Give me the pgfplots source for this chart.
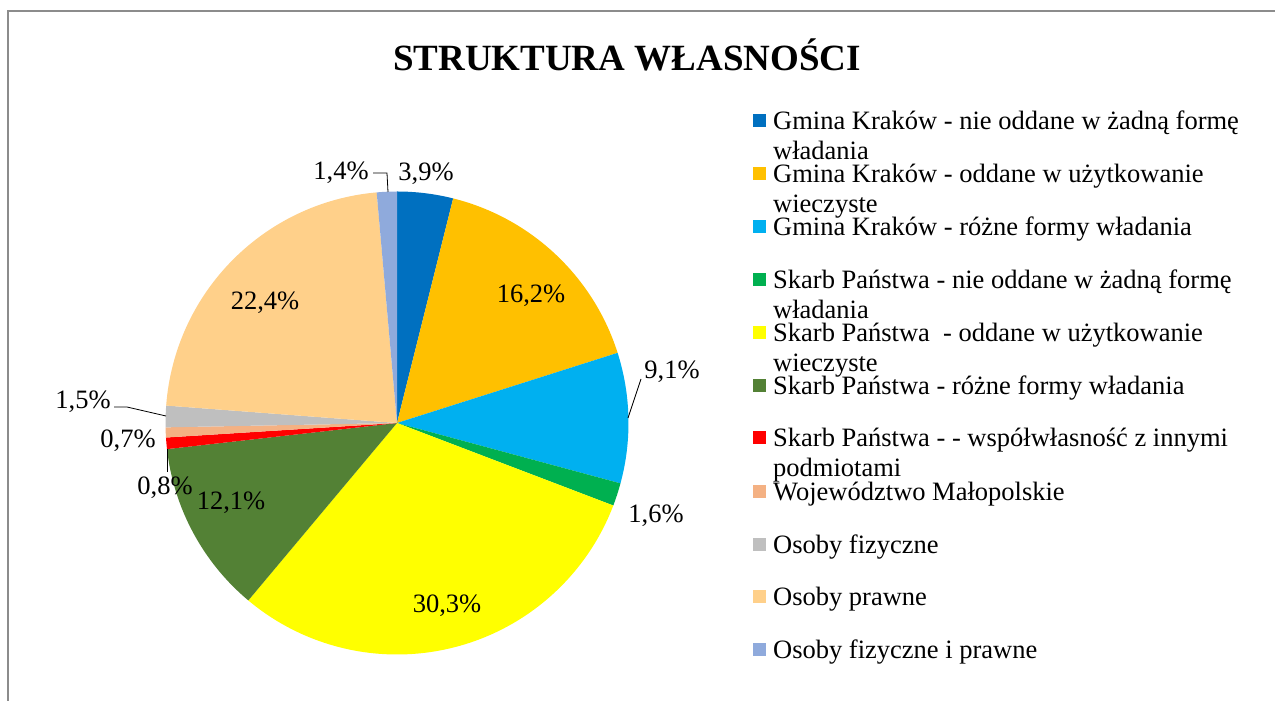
\documentclass[border=0pt]{standalone}
\usepackage{pgfplots}
\pgfplotsset{compat=1.18}
\usepackage{pgfplotstable}
\usepackage{fontspec}
\setmainfont{Liberation Serif}

\definecolor{s0}{HTML}{0070C0}
\definecolor{s1}{HTML}{FFC000}
\definecolor{s2}{HTML}{00B0F0}
\definecolor{s3}{HTML}{00B050}
\definecolor{s4}{HTML}{FFFF00}
\definecolor{s5}{HTML}{538135}
\definecolor{s6}{HTML}{FF0000}
\definecolor{s7}{HTML}{F4B183}
\definecolor{s8}{HTML}{BFBFBF}
\definecolor{s9}{HTML}{FFD08A}
\definecolor{s10}{HTML}{8FAADC}
\definecolor{framegray}{HTML}{8C8C8C}

\newcommand\labfont{\fontsize{26.5}{30}\selectfont}
\newcommand\legfont{\fontsize{26.5}{30}\selectfont}

% value, label centre (pixel coordinates of the reference)
\pgfplotstableread{
v lx ly
3.9 426 174
16.2 531 296
9.1 672 372
1.6 656 516
30.3 447 606
12.1 231 503
0.8 165 488
0.7 128 441
1.5 83 402
22.4 265 303
1.4 341 173
}\piedata

\begin{document}
\begin{tikzpicture}
\useasboundingbox (0,0) rectangle (1275pt,701pt);
\begin{axis}[at={(0pt,0pt)}, anchor=south west, x=1pt, y=1pt,
  xmin=0, xmax=1275, ymin=0, ymax=701, hide axis, clip=false]
\def\cum{0}
\pgfplotsforeachungrouped \i in {0,...,10}{%
  \pgfplotstablegetelem{\i}{v}\of\piedata \let\v\pgfplotsretval
  \pgfplotstablegetelem{\i}{lx}\of\piedata \let\lx\pgfplotsretval
  \pgfplotstablegetelem{\i}{ly}\of\piedata \let\ly\pgfplotsretval
  \pgfmathsetmacro\a{90-3.6*\cum}%
  \pgfmathsetmacro\b{90-3.6*(\cum+\v)}%
  \pgfmathsetmacro\cum{\cum+\v}%
  \pgfmathsetmacro\lyy{701-\ly}%
  \edef\temp{\noexpand\fill[s\i] (axis cs:397,278) -- ++(\a:231.5pt) arc[start angle=\a, end angle=\b, radius=231.5pt] -- cycle;
    \noexpand\node[font=\noexpand\labfont, inner sep=0pt] at (axis cs:\lx,\lyy) {\noexpand\pgfmathprintnumber[assume math mode=true,use comma,fixed,fixed zerofill,precision=1]{\v}\noexpand\%};}%
  \temp
}
% leader lines
\draw[black, line width=0.8pt] (axis cs:373,528) -- (axis cs:387,528) -- (axis cs:388,509);
\draw[black, line width=0.8pt] (axis cs:641,322) -- (axis cs:628,283);
\draw[black, line width=0.8pt] (axis cs:114,294) -- (axis cs:127,294) -- (axis cs:166,285);
\draw[black, line width=0.8pt] (axis cs:167,252) -- (axis cs:167,229);
% frame
\draw[framegray, line width=1.6pt] (axis cs:8,0) -- (axis cs:8,690) -- (axis cs:1275,690);
% title
\node[font=\bfseries\fontsize{37}{40}\selectfont, inner sep=0pt] at (axis cs:627,646) {STRUKTURA WŁASNOŚCI};
% legend
\fill[s0] (axis cs:753,573.5) rectangle (axis cs:766,586.5);
\node[anchor=base west, inner sep=0pt, font=\legfont] at (axis cs:773,571) {Gmina Kraków - nie oddane w żadną formę};
\node[anchor=base west, inner sep=0pt, font=\legfont] at (axis cs:773,541) {władania};
\fill[s1] (axis cs:753,520.5) rectangle (axis cs:766,533.5);
\node[anchor=base west, inner sep=0pt, font=\legfont] at (axis cs:773,518) {Gmina Kraków - oddane w użytkowanie};
\node[anchor=base west, inner sep=0pt, font=\legfont] at (axis cs:773,488) {wieczyste};
\fill[s2] (axis cs:753,467.5) rectangle (axis cs:766,480.5);
\node[anchor=base west, inner sep=0pt, font=\legfont] at (axis cs:773,465) {Gmina Kraków - różne formy władania};
\fill[s3] (axis cs:753,414.5) rectangle (axis cs:766,427.5);
\node[anchor=base west, inner sep=0pt, font=\legfont] at (axis cs:773,412) {Skarb Państwa - nie oddane w żadną formę};
\node[anchor=base west, inner sep=0pt, font=\legfont] at (axis cs:773,382) {władania};
\fill[s4] (axis cs:753,361.5) rectangle (axis cs:766,374.5);
\node[anchor=base west, inner sep=0pt, font=\legfont] at (axis cs:773,359) {Skarb Państwa \ - oddane w użytkowanie};
\node[anchor=base west, inner sep=0pt, font=\legfont] at (axis cs:773,329) {wieczyste};
\fill[s5] (axis cs:753,308.5) rectangle (axis cs:766,321.5);
\node[anchor=base west, inner sep=0pt, font=\legfont] at (axis cs:773,306) {Skarb Państwa - różne formy władania};
\fill[s6] (axis cs:753,256.5) rectangle (axis cs:766,269.5);
\node[anchor=base west, inner sep=0pt, font=\legfont] at (axis cs:773,254) {Skarb Państwa - - współwłasność z innymi};
\node[anchor=base west, inner sep=0pt, font=\legfont] at (axis cs:773,224) {podmiotami};
\fill[s7] (axis cs:753,202.5) rectangle (axis cs:766,215.5);
\node[anchor=base west, inner sep=0pt, font=\legfont] at (axis cs:773,200) {Województwo Małopolskie};
\fill[s8] (axis cs:753,149.5) rectangle (axis cs:766,162.5);
\node[anchor=base west, inner sep=0pt, font=\legfont] at (axis cs:773,147) {Osoby fizyczne};
\fill[s9] (axis cs:753,97.5) rectangle (axis cs:766,110.5);
\node[anchor=base west, inner sep=0pt, font=\legfont] at (axis cs:773,95) {Osoby prawne};
\fill[s10] (axis cs:753,44.5) rectangle (axis cs:766,57.5);
\node[anchor=base west, inner sep=0pt, font=\legfont] at (axis cs:773,42) {Osoby fizyczne i prawne};
\end{axis}
\end{tikzpicture}
\end{document}
